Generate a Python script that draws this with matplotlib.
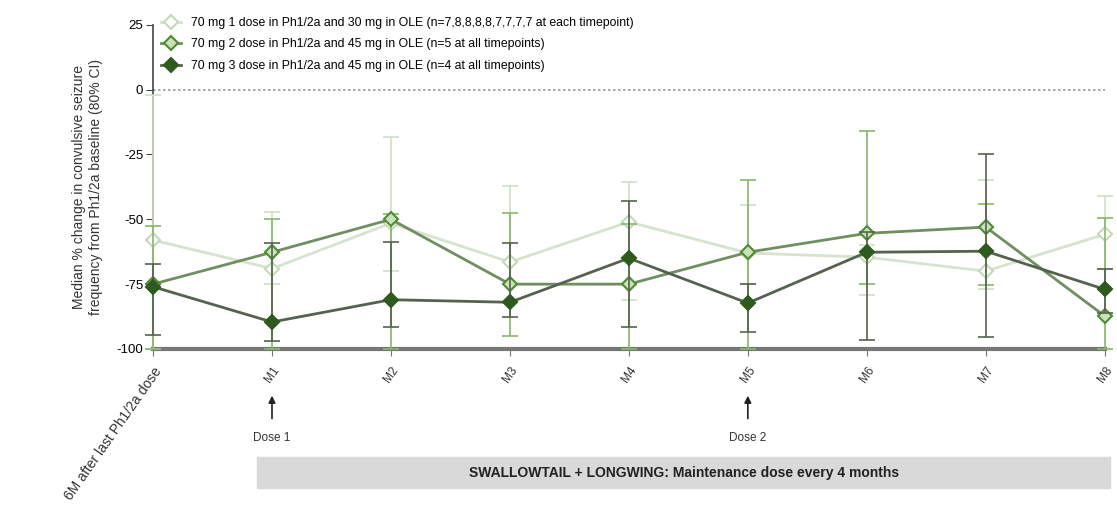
import matplotlib
matplotlib.use("Agg")
import matplotlib.pyplot as plt
import numpy as np

plt.rcParams['font.family'] = ['Liberation Sans', 'DejaVu Sans']

# timepoints
timepoints = ["6M after last Ph1/2a dose", "M1", "M2", "M3", "M4", "M5", "M6", "M7", "M8"]

# medians (% change)
med_1dose = [-58, -69, -51.5, -66.5, -51, -63, -64.6, -70, -55.8]
med_2dose = [-75, -62.7, -50, -75, -75, -62.7, -55.4, -53, -87.3]
med_3dose = [-76, -89.6, -81, -82, -65, -82.3, -62.7, -62.3, -77]

# 80% CI bounds
up_1dose = [-2, -47, -18.3, -37.3, -35.6, -44.6, -60, -35, -41]
lo_1dose = [-100, -75, -70, -75, -81, -75, -79, -77, -69]
up_2dose = [-52.6, -49.7, -48, -47.6, -51.7, -35, -16, -44, -49.5]
lo_2dose = [-100, -100, -100, -95, -100, -100, -75, -75.4, -100]
up_3dose = [-67.3, -59, -58.7, -59, -43, -75, -55, -24.7, -69]
lo_3dose = [-94.6, -97, -91.5, -87.8, -91.4, -93.6, -96.5, -95.3, -86]

labels = [
    "70 mg 1 dose in Ph1/2a and 30 mg in OLE (n=7,8,8,8,8,7,7,7,7 at each timepoint)",
    "70 mg 2 dose in Ph1/2a and 45 mg in OLE (n=5 at all timepoints)",
    "70 mg 3 dose in Ph1/2a and 45 mg in OLE (n=4 at all timepoints)",
]

x = np.arange(len(timepoints))

fig = plt.figure(figsize=(11.17, 5.17), dpi=100)
ax = fig.add_axes([0.137, 0.325, 0.852, 0.627])

series = [
    (med_1dose, lo_1dose, up_1dose, '#d6e4cf', '#cfe0c6', 'white', '#c4d8ba', 3),
    (med_2dose, lo_2dose, up_2dose, '#6f8f60', '#86b86a', '#c9e3b6', '#4f8a35', 4),
    (med_3dose, lo_3dose, up_3dose, '#56624f', '#55624e', '#2f5a1e', '#2f5a1e', 5),
]

for (med, lo, up, lcol, ecol, face, edge, z), lab in zip(series, labels):
    med = np.array(med)
    yerr = [med - np.array(lo), np.array(up) - med]
    ax.errorbar(x, med, yerr=yerr, fmt='none', ecolor=ecol, elinewidth=1.2,
                capsize=6, capthick=1.2, zorder=z, clip_on=False)
    ax.plot(x, med, color=lcol, lw=2, marker='D', ms=7.5, mfc=face, mec=edge,
            mew=1.5, label=lab, zorder=z + 0.5, clip_on=False)

ax.axhline(0, color='#999999', lw=1.2, ls=(0, (1.5, 1.5)), zorder=1)

ax.set_xlim(0, 8)
ax.set_ylim(-100, 25)
ax.set_yticks([25, 0, -25, -50, -75, -100])
ax.set_yticklabels(['25', '0', '-25', '-50', '-75', '-100'], fontsize=9.5)
ax.set_xticks(x)
ax.set_xticklabels(timepoints, rotation=55, ha='right', rotation_mode='anchor',
                   fontsize=8.5, color='#333333')
ax.get_xticklabels()[0].set_fontsize(10)

for s in ['top', 'right']:
    ax.spines[s].set_visible(False)
ax.spines['left'].set_color('#444444')
ax.spines['left'].set_linewidth(1.2)
ax.spines['bottom'].set_color('#777777')
ax.spines['bottom'].set_linewidth(3)
ax.tick_params(axis='y', direction='out', length=5, color='#444444', pad=2)
ax.tick_params(axis='x', direction='out', length=5, color='#777777', pad=6)

ax.set_ylabel("Median % change in convulsive seizure\nfrequency from Ph1/2a baseline (80% CI)",
              fontsize=10, color='#333333', labelpad=10)

ax.legend(loc='upper left', bbox_to_anchor=(0.14, 0.977), bbox_transform=fig.transFigure,
          frameon=False, fontsize=8.8, labelspacing=0.78, handlelength=1.6,
          handletextpad=0.8, borderaxespad=0)

# dose arrows
for xi, txt in [(1, "Dose 1"), (5, "Dose 2")]:
    ax.annotate('', xy=(xi, 0.24), xycoords=('data', 'figure fraction'),
                xytext=(xi, 0.185), textcoords=('data', 'figure fraction'),
                arrowprops=dict(arrowstyle='-|>', color='#222222', lw=1.2,
                                mutation_scale=10))
    ax.annotate(txt, xy=(xi, 0.153), xycoords=('data', 'figure fraction'),
                ha='center', va='center', fontsize=8.5, color='#333333')

fig.patches.append(plt.Rectangle((0.230, 0.056), 0.764, 0.060,
                                 transform=fig.transFigure, color='#d9d9d9', zorder=0))
fig.text(0.612, 0.086, "SWALLOWTAIL + LONGWING: Maintenance dose every 4 months",
         ha='center', va='center', fontsize=10, fontweight='bold', color='#222222')

fig.savefig("out.png", dpi=100)
